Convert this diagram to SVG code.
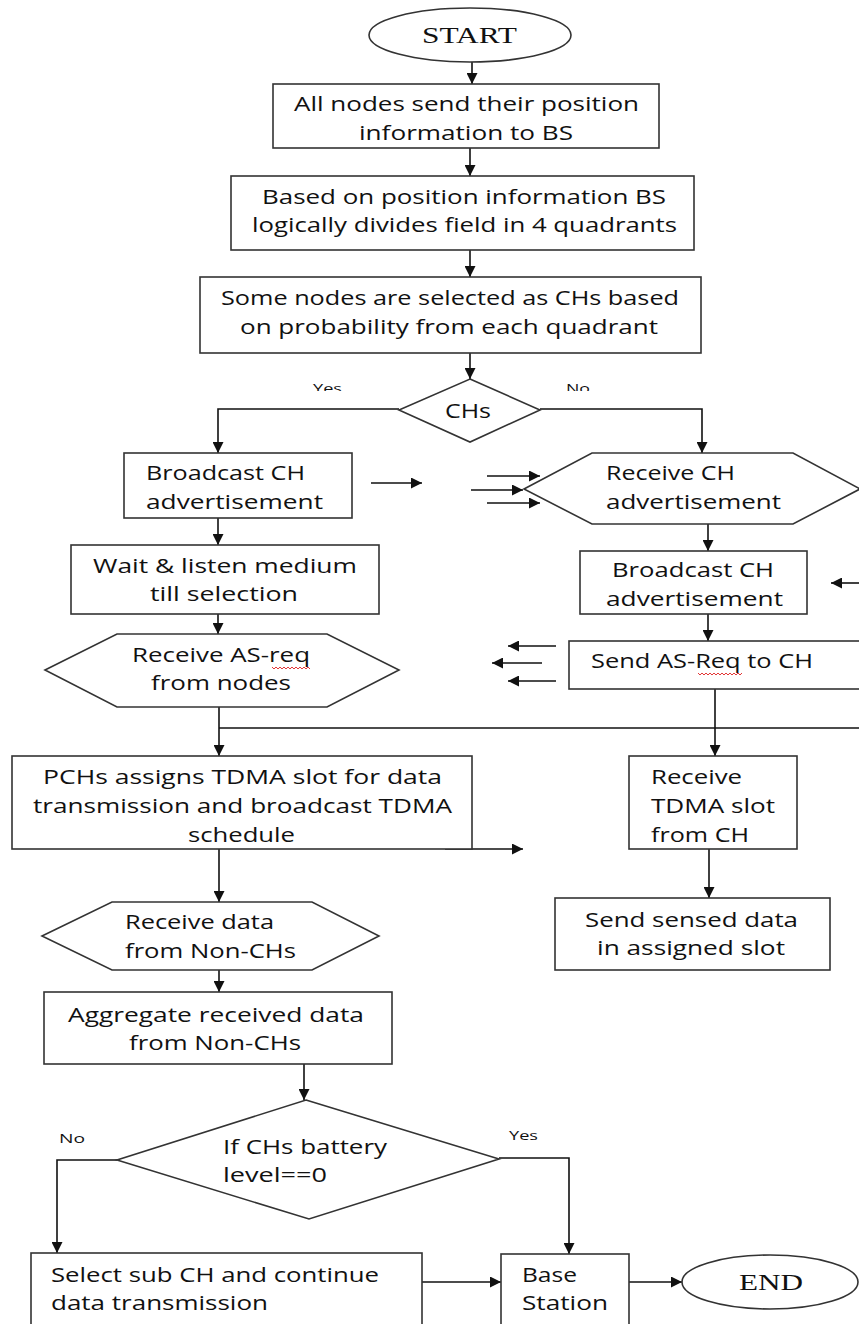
<svg xmlns="http://www.w3.org/2000/svg" width="859" height="1324" viewBox="0 0 859 1324">
<defs>
<style>
.s{fill:#fff;stroke:#333;stroke-width:1.6}
.c{fill:none;stroke:#111;stroke-width:1.6}
.t{font-family:"Open Sans","Noto Sans",sans-serif;font-size:20px;fill:#111}
.sm{font-family:"Open Sans","Noto Sans",sans-serif;font-size:13px;fill:#111}
.serif{font-family:"Liberation Serif","Times New Roman",serif;font-size:24px;fill:#111}
.sq{fill:none;stroke:#e02020;stroke-width:0.9}
</style>
<marker id="ah" markerUnits="userSpaceOnUse" markerWidth="11" markerHeight="11" refX="11" refY="5.5" orient="auto">
<path d="M0,0 L11,5.5 L0,11 z" fill="#111"/>
</marker>
<clipPath id="clipTop"><rect x="0" y="0" width="859" height="391"/></clipPath>
</defs>
<rect width="859" height="1324" fill="#fff"/>

<g id="connectors">
<path class="c" marker-end="url(#ah)" d="M472,62 L472,84"/>
<path class="c" marker-end="url(#ah)" d="M470,148 L470,176"/>
<path class="c" marker-end="url(#ah)" d="M470,250 L470,277"/>
<path class="c" marker-end="url(#ah)" d="M470,353 L470,379"/>
<path class="c" marker-end="url(#ah)" d="M399,409 L218,409 L218,453"/>
<path class="c" marker-end="url(#ah)" d="M540,409 L702,409 L702,453"/>
<path class="c" marker-end="url(#ah)" d="M218,518 L218,545"/>
<path class="c" marker-end="url(#ah)" d="M218,614 L218,634"/>
<path class="c" marker-end="url(#ah)" d="M219,707 L219,756"/>
<path class="c" d="M219,728 L859,728"/>
<path class="c" marker-end="url(#ah)" d="M708,524 L708,551"/>
<path class="c" marker-end="url(#ah)" d="M708,614 L708,641"/>
<path class="c" marker-end="url(#ah)" d="M715,689 L715,756"/>
<path class="c" marker-end="url(#ah)" d="M219,849 L219,902"/>
<path class="c" marker-end="url(#ah)" d="M219,966 L219,992"/>
<path class="c" marker-end="url(#ah)" d="M304,1064 L304,1100"/>
<path class="c" marker-end="url(#ah)" d="M709,849 L709,898"/>
<path class="c" marker-end="url(#ah)" d="M117,1160 L57,1160 L57,1253"/>
<path class="c" marker-end="url(#ah)" d="M499,1158 L569,1158 L569,1254"/>
<path class="c" marker-end="url(#ah)" d="M422,1282 L501,1282"/>
<path class="c" marker-end="url(#ah)" d="M629,1282 L682,1282"/>
<path class="c" marker-end="url(#ah)" d="M371,483 L422,483"/>
<path class="c" marker-end="url(#ah)" d="M487,476 L540,476"/>
<path class="c" marker-end="url(#ah)" d="M471,490 L523,490"/>
<path class="c" marker-end="url(#ah)" d="M487,503 L540,503"/>
<path class="c" marker-end="url(#ah)" d="M859,583 L831,583"/>
<path class="c" marker-end="url(#ah)" d="M556,646 L508,646"/>
<path class="c" marker-end="url(#ah)" d="M542,663 L492,663"/>
<path class="c" marker-end="url(#ah)" d="M556,681 L508,681"/>
<path class="c" marker-end="url(#ah)" d="M445,849 L523,849"/>
</g>

<g id="start">
<ellipse class="s" cx="470" cy="35" rx="101" ry="27"/>
<text class="serif" x="422" y="43" textLength="95" lengthAdjust="spacingAndGlyphs">START</text>
</g>

<g id="box1">
<rect class="s" x="273" y="84" width="386" height="64"/>
<text class="t" x="294" y="111" textLength="345" lengthAdjust="spacingAndGlyphs">All nodes send their position</text>
<text class="t" x="359" y="140" textLength="214" lengthAdjust="spacingAndGlyphs">information to BS</text>
</g>

<g id="box2">
<rect class="s" x="231" y="176" width="463" height="74"/>
<text class="t" x="262" y="204" textLength="404" lengthAdjust="spacingAndGlyphs">Based on position information BS</text>
<text class="t" x="252" y="232" textLength="425" lengthAdjust="spacingAndGlyphs">logically divides field in 4 quadrants</text>
</g>

<g id="box3">
<rect class="s" x="200" y="277" width="501" height="76"/>
<text class="t" x="221" y="305" textLength="458" lengthAdjust="spacingAndGlyphs">Some nodes are selected as CHs based</text>
<text class="t" x="240" y="334" textLength="418" lengthAdjust="spacingAndGlyphs">on probability from each quadrant</text>
</g>

<g id="chs">
<polygon class="s" points="470,379 540,410 470,442 399,410"/>
<text class="t" x="445" y="418" textLength="46" lengthAdjust="spacingAndGlyphs">CHs</text>
<g clip-path="url(#clipTop)">
<text class="sm" x="313" y="393" textLength="29" lengthAdjust="spacingAndGlyphs">Yes</text>
<text class="sm" x="566" y="393" textLength="24" lengthAdjust="spacingAndGlyphs">No</text>
</g>
</g>

<g id="broadcast-left">
<rect class="s" x="124" y="453" width="228" height="65"/>
<text class="t" x="146" y="480" textLength="159" lengthAdjust="spacingAndGlyphs">Broadcast CH</text>
<text class="t" x="146" y="509" textLength="177" lengthAdjust="spacingAndGlyphs">advertisement</text>
</g>

<g id="wait">
<rect class="s" x="71" y="545" width="308" height="69"/>
<text class="t" x="93" y="573" textLength="264" lengthAdjust="spacingAndGlyphs">Wait &amp; listen medium</text>
<text class="t" x="150" y="601" textLength="148" lengthAdjust="spacingAndGlyphs">till selection</text>
</g>

<g id="receive-asreq">
<polygon class="s" points="45,670 117,634 327,634 399,670 327,707 117,707"/>
<text class="t" x="132" y="662" textLength="178" lengthAdjust="spacingAndGlyphs">Receive AS-req</text>
<text class="t" x="151" y="690" textLength="140" lengthAdjust="spacingAndGlyphs">from nodes</text>
<path class="sq" d="M272,667 l2,2 l2,-2 l2,2 l2,-2 l2,2 l2,-2 l2,2 l2,-2 l2,2 l2,-2 l2,2 l2,-2 l2,2 l2,-2 l2,2 l2,-2 l2,2 l2,-2 l2,2"/>
</g>

<g id="receive-ch">
<polygon class="s" points="524,489 592,453 793,453 860,489 793,524 592,524"/>
<text class="t" x="606" y="480" textLength="129" lengthAdjust="spacingAndGlyphs">Receive CH</text>
<text class="t" x="606" y="509" textLength="175" lengthAdjust="spacingAndGlyphs">advertisement</text>
</g>

<g id="broadcast-right">
<rect class="s" x="580" y="551" width="227" height="63"/>
<text class="t" x="612" y="577" textLength="162" lengthAdjust="spacingAndGlyphs">Broadcast CH</text>
<text class="t" x="606" y="606" textLength="177" lengthAdjust="spacingAndGlyphs">advertisement</text>
</g>

<g id="send-asreq">
<rect class="s" x="569" y="641" width="300" height="48"/>
<text class="t" x="591" y="668" textLength="222" lengthAdjust="spacingAndGlyphs">Send AS-Req to CH</text>
<path class="sq" d="M698,673 l2,2 l2,-2 l2,2 l2,-2 l2,2 l2,-2 l2,2 l2,-2 l2,2 l2,-2 l2,2 l2,-2 l2,2 l2,-2 l2,2 l2,-2 l2,2 l2,-2 l2,2 l2,-2 l2,2 l2,-2"/>
</g>

<g id="pchs">
<rect class="s" x="12" y="756" width="460" height="93"/>
<text class="t" x="43" y="784" textLength="399" lengthAdjust="spacingAndGlyphs">PCHs assigns TDMA slot for data</text>
<text class="t" x="33" y="813" textLength="419" lengthAdjust="spacingAndGlyphs">transmission and broadcast TDMA</text>
<text class="t" x="188" y="842" textLength="107" lengthAdjust="spacingAndGlyphs">schedule</text>
</g>

<g id="receive-tdma">
<rect class="s" x="629" y="756" width="168" height="93"/>
<text class="t" x="651" y="784" textLength="91" lengthAdjust="spacingAndGlyphs">Receive</text>
<text class="t" x="651" y="813" textLength="124" lengthAdjust="spacingAndGlyphs">TDMA slot</text>
<text class="t" x="651" y="842" textLength="98" lengthAdjust="spacingAndGlyphs">from CH</text>
</g>

<g id="receive-data">
<polygon class="s" points="42,936 112,902 312,902 379,936 312,970 112,970"/>
<text class="t" x="125" y="929" textLength="149" lengthAdjust="spacingAndGlyphs">Receive data</text>
<text class="t" x="125" y="958" textLength="171" lengthAdjust="spacingAndGlyphs">from Non-CHs</text>
</g>

<g id="send-sensed">
<rect class="s" x="555" y="898" width="275" height="72"/>
<text class="t" x="585" y="927" textLength="213" lengthAdjust="spacingAndGlyphs">Send sensed data</text>
<text class="t" x="597" y="955" textLength="188" lengthAdjust="spacingAndGlyphs">in assigned slot</text>
</g>

<g id="aggregate">
<rect class="s" x="44" y="992" width="348" height="72"/>
<text class="t" x="68" y="1022" textLength="296" lengthAdjust="spacingAndGlyphs">Aggregate received data</text>
<text class="t" x="129" y="1050" textLength="172" lengthAdjust="spacingAndGlyphs">from Non-CHs</text>
</g>

<g id="battery">
<polygon class="s" points="306,1100 499,1159 309,1219 117,1160"/>
<text class="t" x="223" y="1154" textLength="164" lengthAdjust="spacingAndGlyphs">If CHs battery</text>
<text class="t" x="223" y="1182" textLength="104" lengthAdjust="spacingAndGlyphs">level==0</text>
<text class="sm" x="59" y="1143" textLength="26" lengthAdjust="spacingAndGlyphs">No</text>
<text class="sm" x="509" y="1140" textLength="29" lengthAdjust="spacingAndGlyphs">Yes</text>
</g>

<g id="select-sub">
<rect class="s" x="31" y="1253" width="391" height="80"/>
<text class="t" x="51" y="1282" textLength="328" lengthAdjust="spacingAndGlyphs">Select sub CH and continue</text>
<text class="t" x="51" y="1310" textLength="217" lengthAdjust="spacingAndGlyphs">data transmission</text>
</g>

<g id="base-station">
<rect class="s" x="501" y="1254" width="128" height="80"/>
<text class="t" x="522" y="1282" textLength="55" lengthAdjust="spacingAndGlyphs">Base</text>
<text class="t" x="522" y="1310" textLength="86" lengthAdjust="spacingAndGlyphs">Station</text>
</g>

<g id="end">
<ellipse class="s" cx="770" cy="1282" rx="88" ry="27"/>
<text class="serif" x="739" y="1290" textLength="64" lengthAdjust="spacingAndGlyphs">END</text>
</g>
</svg>
